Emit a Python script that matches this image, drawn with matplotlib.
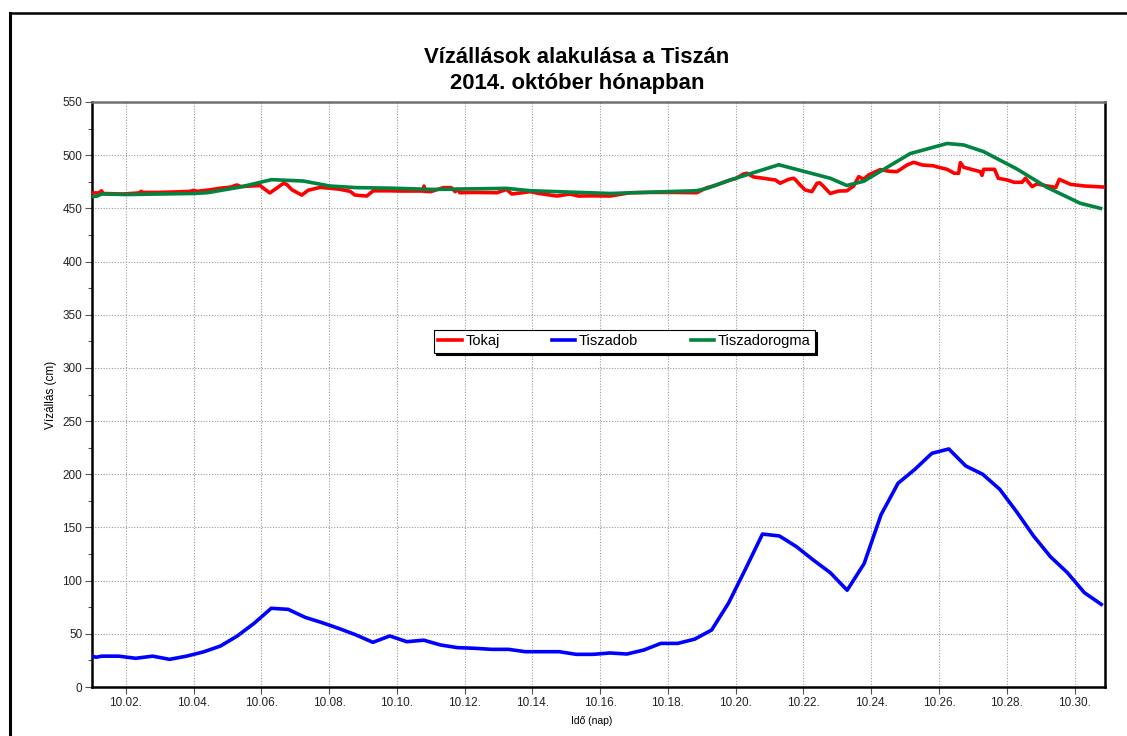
import matplotlib
matplotlib.use("Agg")
import matplotlib.pyplot as plt
from matplotlib.lines import Line2D
from matplotlib.ticker import MultipleLocator, FixedLocator

plt.rcParams['font.family'] = ['Liberation Sans', 'DejaVu Sans']

# ---- data (day of October as decimal, water level in cm) ----
tokaj_t = [1.00, 1.20, 1.28, 1.33, 1.90, 2.40, 2.45, 2.50, 3.00, 3.50, 3.90, 4.00, 4.10,
           4.50, 4.80, 5.10, 5.27, 5.40, 5.96, 6.10, 6.25, 6.45, 6.65, 6.75, 6.90, 7.19,
           7.38, 7.73, 8.00, 8.30, 8.62, 8.76, 9.11, 9.30, 9.80, 10.10, 10.50, 10.78,
           10.80, 10.83, 11.00, 11.37, 11.60, 11.72, 11.78, 11.86, 12.30, 12.95, 13.24,
           13.39, 13.70, 13.93, 14.20, 14.72, 15.11, 15.36, 15.80, 16.29, 16.88, 17.50,
           18.20, 18.85, 19.15, 19.34, 19.84, 20.00, 20.23, 20.33, 20.53, 20.82, 21.02,
           21.17, 21.31, 21.56, 21.71, 21.76, 21.90, 22.05, 22.25, 22.40, 22.48, 22.55,
           22.79, 23.04, 23.28, 23.48, 23.63, 23.78, 23.92, 24.27, 24.50, 24.76, 25.06,
           25.25, 25.35, 25.50, 25.84, 25.94, 26.24, 26.45, 26.58, 26.63, 26.73, 27.22,
           27.27, 27.32, 27.64, 27.75, 28.01, 28.22, 28.45, 28.55, 28.75, 28.89, 29.20,
           29.45, 29.55, 29.88, 30.30, 30.89]
tokaj_v = [464.5, 464.5, 466.5, 464.0, 463.5, 464.5, 466.0, 465.0, 465.0, 465.5, 466.0, 467.0, 466.0,
           467.5, 469.0, 470.0, 472.0, 470.5, 471.5, 468.0, 464.5, 469.0, 473.5, 472.5, 467.5, 462.5,
           467.0, 469.7, 469.0, 468.0, 466.0, 462.5, 461.6, 466.5, 466.5, 466.3, 466.3, 466.3,
           471.0, 466.0, 465.7, 469.5, 469.5, 465.7, 468.0, 464.7, 465.0, 464.7, 467.8,
           463.5, 464.7, 465.7, 464.0, 461.6, 463.5, 461.6, 461.8, 461.6, 464.7, 465.0,
           465.0, 464.7, 469.5, 471.0, 476.7, 478.0, 482.3, 483.0, 479.5, 478.3, 477.3,
           476.7, 473.6, 477.3, 478.3, 477.0, 472.0, 467.3, 465.7, 473.6, 474.0, 472.0,
           464.0, 466.3, 466.5, 471.0, 479.8, 477.3, 481.4, 486.5, 485.0, 484.5, 490.8,
           493.3, 492.4, 490.8, 490.0, 489.0, 486.7, 483.0, 483.0, 493.0, 488.6, 484.5,
           481.0, 486.7, 486.7, 478.3, 476.7, 474.5, 474.5, 478.3, 470.4, 473.0, 471.0,
           469.7, 477.3, 472.6, 471.0, 470.0]

tiszadob_t = [1.00, 1.12, 1.29, 1.79, 2.29, 2.79, 3.29, 3.79, 4.29, 4.79, 5.29, 5.79, 6.29,
              6.79, 7.29, 7.79, 8.29, 8.79, 9.29, 9.79, 10.29, 10.79, 11.29, 11.79, 12.29,
              12.79, 13.29, 13.79, 14.29, 14.79, 15.29, 15.79, 16.29, 16.79, 17.29, 17.79,
              18.29, 18.79, 19.29, 19.79, 20.29, 20.79, 21.29, 21.79, 22.29, 22.79, 23.29,
              23.79, 24.29, 24.79, 25.29, 25.79, 26.29, 26.79, 27.29, 27.79, 28.29, 28.79,
              29.29, 29.79, 30.29, 30.79]
tiszadob_v = [29.0, 28.0, 29.0, 29.0, 27.0, 29.0, 26.0, 29.0, 33.0, 38.5, 48.0, 60.0, 74.0,
              73.0, 65.5, 60.5, 55.0, 49.0, 42.0, 48.0, 42.6, 44.0, 39.5, 37.0, 36.4,
              35.4, 35.4, 33.2, 33.2, 33.2, 30.7, 30.7, 32.0, 31.0, 34.8, 41.0,
              41.0, 45.0, 53.6, 79.0, 111.0, 143.8, 142.0, 132.0, 119.4, 107.5, 91.0,
              116.0, 162.0, 191.5, 204.7, 219.7, 223.8, 207.8, 200.0, 186.0, 164.8, 142.0,
              122.5, 107.5, 88.7, 77.7]

dorogma_t = [1.00, 1.14, 1.29, 2.00, 4.00, 4.40, 5.37, 6.30, 7.24, 8.02, 8.81, 9.80, 11.05,
             13.24, 13.93, 16.29, 18.85, 19.15, 19.84, 21.27, 22.79, 23.28, 23.78, 25.15,
             26.24, 26.73, 27.32, 28.30, 29.19, 30.17, 30.77]
dorogma_v = [461.0, 461.5, 463.5, 463.0, 464.0, 464.7, 470.0, 477.0, 475.7, 471.0, 469.5, 469.0, 467.8,
             468.8, 466.6, 464.0, 466.6, 468.8, 476.7, 491.0, 478.3, 471.5, 475.5, 501.5,
             511.0, 509.6, 503.3, 487.0, 469.7, 454.8, 450.0]

series_names = ["Tokaj", "Tiszadob", "Tiszadorogma"]
series_colors = ["#ff0000", "#0000ff", "#00843f"]

xtick_pos = list(range(2, 31, 2))
xtick_labels = ["10.%02d." % d for d in xtick_pos]

title = "Vízállások alakulása a Tiszán\n2014. október hónapban"
ylabel = "Vízállás (cm)"
xlabel = "Idő (nap)"

# ---- figure ----
fig = plt.figure(figsize=(11.27, 7.36), dpi=100)
ax = fig.add_axes([92/1127, 1-687/736, (1105-92)/1127, (687-102)/736])

lw = 2.6
ax.plot(tokaj_t, tokaj_v, color=series_colors[0], lw=lw, label=series_names[0], zorder=3)
ax.plot(tiszadob_t, tiszadob_v, color=series_colors[1], lw=lw, label=series_names[1], zorder=3)
ax.plot(dorogma_t, dorogma_v, color=series_colors[2], lw=lw, label=series_names[2], zorder=4)

ax.set_xlim(1.0, 30.9)
ax.set_ylim(0, 550)
ax.yaxis.set_major_locator(MultipleLocator(50))
ax.yaxis.set_minor_locator(MultipleLocator(25))
ax.xaxis.set_major_locator(FixedLocator(xtick_pos))
ax.set_xticklabels(xtick_labels)

ax.grid(True, which='major', linestyle=(0, (1, 1.5)), color='#9a9a9a', linewidth=0.8)
ax.tick_params(axis='both', which='major', direction='out', length=5, width=0.8,
               color='#555555', labelsize=8.5, labelcolor='#222222', pad=2)
ax.tick_params(axis='y', which='minor', direction='out', length=3, width=0.8, color='#555555')

for s in ['left', 'bottom', 'right']:
    ax.spines[s].set_color('black')
    ax.spines[s].set_linewidth(1.8)
ax.spines['top'].set_color('#707070')
ax.spines['top'].set_linewidth(1.8)

ax.set_ylabel(ylabel, fontsize=8.5)
ax.yaxis.set_label_coords(-0.0345, 0.5)
ax.set_xlabel(xlabel, fontsize=7.5)
ax.xaxis.set_label_coords(0.493, -0.05)

leg = ax.legend(loc='center', bbox_to_anchor=(0.5255, 0.591), ncol=3, fontsize=10.5,
                frameon=True, fancybox=False,
                shadow={'color': 'black', 'alpha': 1.0, 'ox': 1.5, 'oy': -1.5},
                edgecolor='black', handlelength=1.6, handletextpad=0.25, columnspacing=3.6,
                borderpad=0.3, borderaxespad=0)
leg.get_frame().set_linewidth(0.8)
leg.set_zorder(10)

fig.text(577/1127, 1-70.5/736, title, ha='center', va='center', fontsize=15.9,
         fontweight='bold', linespacing=1.27)

# outer frame (left and top edges)
fig.add_artist(Line2D([10/1127, 10/1127], [0, 1-13/736], color='black', lw=2.2,
                      transform=fig.transFigure))
fig.add_artist(Line2D([10/1127, 1], [1-13/736, 1-13/736], color='black', lw=1.8,
                      transform=fig.transFigure))

fig.savefig("out.png", dpi=100)
